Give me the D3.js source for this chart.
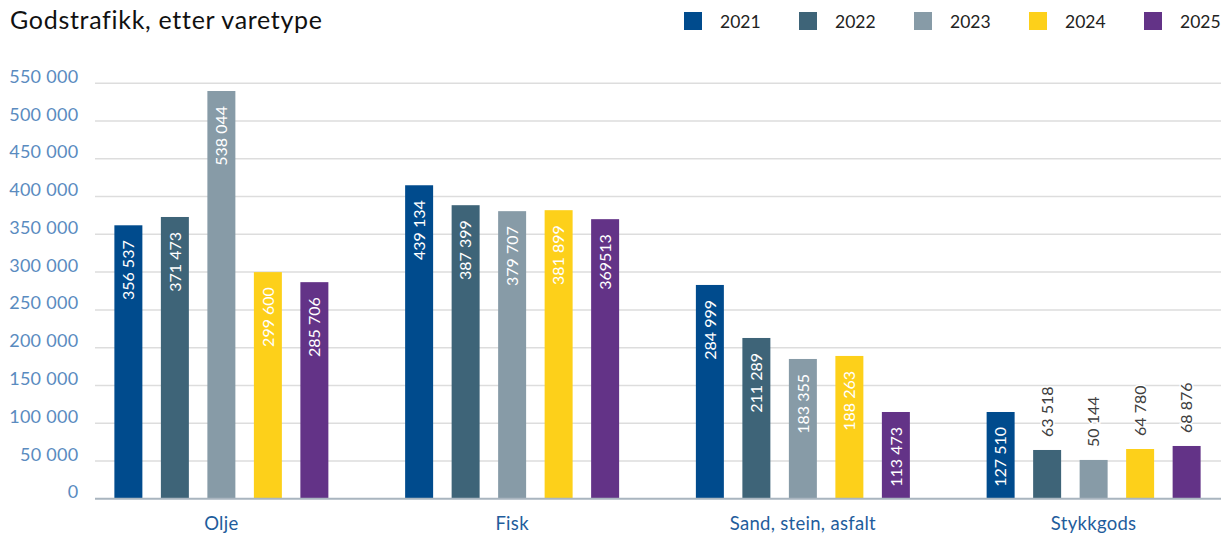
<!DOCTYPE html>
<html>
<head>
<meta charset="utf-8">
<script src="https://cdn.jsdelivr.net/npm/d3@7"></script>
<style>
  html, body { margin: 0; padding: 0; background: #fff; }
  svg { display: block; font-family: Lato, "Open Sans", sans-serif; }
</style>
</head>
<body>
<svg id="chart" width="1221" height="533"></svg>
<script>
const title = "Godstrafikk, etter varetype";
const categories = ["Olje", "Fisk", "Sand, stein, asfalt", "Stykkgods"];
const years = ["2021", "2022", "2023", "2024", "2025"];
const colors = ["#004b8d", "#3e6478", "#879ba7", "#fdd01a", "#633387"];
// bar heights, per year across categories
const values2021 = [362000, 415000, 283000, 114800];
const values2022 = [373000, 388600, 212800, 64500];
const values2023 = [539800, 380700, 185000, 51300];
const values2024 = [300000, 382000, 189000, 65800];
const values2025 = [286700, 370100, 114800, 69800];
// printed data labels
const labels2021 = ["356 537", "439 134", "284 999", "127 510"];
const labels2022 = ["371 473", "387 399", "211 289", "63 518"];
const labels2023 = ["538 044", "379 707", "183 355", "50 144"];
const labels2024 = ["299 600", "381 899", "188 263", "64 780"];
const labels2025 = ["285 706", "369513", "113 473", "68 876"];
// whether the label sits inside the bar
const inside2021 = [true, true, true, true];
const inside2022 = [true, true, true, false];
const inside2023 = [true, true, true, false];
const inside2024 = [true, true, true, false];
const inside2025 = [true, true, true, false];
const yTicks = [0, 50000, 100000, 150000, 200000, 250000, 300000, 350000, 400000, 450000, 500000, 550000];

const seriesValues = [values2021, values2022, values2023, values2024, values2025];
const seriesLabels = [labels2021, labels2022, labels2023, labels2024, labels2025];
const seriesInside = [inside2021, inside2022, inside2023, inside2024, inside2025];

const rows = [];
categories.forEach((c, ci) => {
  years.forEach((yr, yi) => {
    rows.push({cat: c, year: yr, yi, value: seriesValues[yi][ci], label: seriesLabels[yi][ci], inside: seriesInside[yi][ci]});
  });
});

const svg = d3.select("#chart");
const W = 1221;
const gridLeft = 95;

const y = d3.scaleLinear().domain([0, 550000]).range([498.7, 83.3]);
const x0 = d3.scaleBand().domain(categories).range([76, 1239]).padding(0);
const x1 = d3.scaleBand().domain(years).range([-116.25, 116.25]).paddingInner(0.398).paddingOuter(0.199);
const color = d3.scaleOrdinal().domain(years).range(colors);
const fmt = v => d3.format(",")(v).replace(/,/g, " ");

// Title
svg.append("text")
  .attr("x", 10).attr("y", 28.7)
  .attr("font-size", 25).attr("letter-spacing", 0.7).attr("fill", "#111")
  .text(title);

// Legend
const leg = svg.append("g");
years.forEach((yr, i) => {
  const lx = 684 + i * 115;
  leg.append("rect").attr("x", lx).attr("y", 12).attr("width", 18).attr("height", 18).attr("fill", color(yr));
  leg.append("text").attr("x", lx + 36).attr("y", 27.7).attr("font-size", 17.5).attr("fill", "#222").text(yr);
});

// Gridlines
const yAxis = d3.axisLeft(y).tickValues(yTicks).tickSize(0).tickFormat(fmt);
const grid = svg.append("g");
grid.selectAll("line").data(yTicks.filter(t => t > 0)).join("line")
  .attr("x1", gridLeft).attr("x2", W)
  .attr("y1", d => y(d)).attr("y2", d => y(d))
  .attr("stroke", "#dddddd").attr("stroke-width", 1.5);

// Y axis labels
const ya = svg.append("g").attr("transform", "translate(78.5,0)").call(yAxis);
ya.select(".domain").remove();
ya.selectAll("text")
  .attr("x", 0).attr("dy", "-0.9")
  .attr("font-family", "Lato, sans-serif")
  .attr("font-size", 18).attr("letter-spacing", 0.3).attr("fill", "#5a8bbf")
  .attr("dominant-baseline", "alphabetic")
  .attr("text-anchor", "end");

// Bars
const groups = svg.append("g").selectAll("g").data(categories).join("g")
  .attr("transform", d => `translate(${x0(d) + x0.bandwidth() / 2},0)`);

groups.selectAll("rect").data(c => rows.filter(r => r.cat === c)).join("rect")
  .attr("x", d => x1(d.year))
  .attr("width", x1.bandwidth())
  .attr("y", d => y(d.value))
  .attr("height", d => y(0) - y(d.value))
  .attr("fill", d => color(d.year));

// Data labels
groups.selectAll("text.lbl").data(c => rows.filter(r => r.cat === c)).join("text")
  .attr("class", "lbl")
  .attr("transform", d => {
    const cx = x1(d.year) + x1.bandwidth() / 2;
    const ty = d.inside ? y(d.value) + 15 : y(d.value) - 13;
    return `translate(${cx},${ty}) rotate(-90)`;
  })
  .attr("dy", "0.36em")
  .attr("text-anchor", d => d.inside ? "end" : "start")
  .attr("font-size", 16)
  .attr("fill", d => d.inside ? "#ffffff" : "#404040")
  .attr("paint-order", "stroke")
  .attr("stroke", d => d.inside ? "none" : "#ffffff")
  .attr("stroke-width", d => d.inside ? 0 : 3)
  .text(d => d.label);

// X axis baseline
svg.append("line")
  .attr("x1", gridLeft).attr("x2", W)
  .attr("y1", y(0)).attr("y2", y(0))
  .attr("stroke", "#a9b5bf").attr("stroke-width", 2);

// Category labels
const xAxis = d3.axisBottom(x0).tickSize(0);
const xa = svg.append("g").attr("transform", `translate(0,${y(0)})`).call(xAxis);
xa.select(".domain").remove();
xa.selectAll("text")
  .attr("y", 31.8).attr("dy", 0)
  .attr("font-family", "Lato, sans-serif")
  .attr("font-size", 18.5).attr("letter-spacing", 0.3).attr("fill", "#1f5d9c");
</script>
</body>
</html>
